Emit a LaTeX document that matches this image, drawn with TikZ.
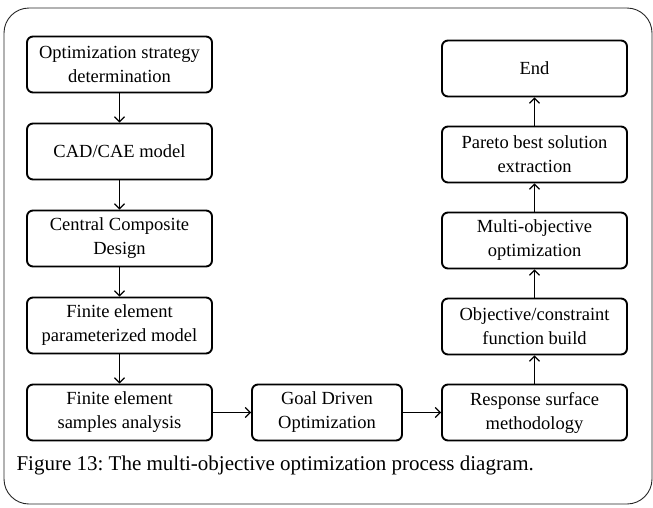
\documentclass[tikz,border=0pt]{standalone}
\usepackage{fontspec}
\setmainfont{Liberation Serif}
\usetikzlibrary{positioning}
\usetikzlibrary{arrows.meta}
\frenchspacing
\tikzset{procbox/.style={minimum width=185pt,minimum height=56pt,rounded corners=1.3ex,draw,line width=1.9pt,align=center,inner sep=2pt,font=\fontsize{18.5}{24}\selectfont},
flowarrow/.style={line width=1.2pt,-{Straight Barb[length=5pt,width=10pt]}}}

\begin{document}
\begin{tikzpicture}[x=1pt,y=1pt]
\useasboundingbox (0,0) rectangle (653,-507);
\draw[rounded corners=25pt,line width=0.9pt,black!85] (4,-8) rectangle (652,-504);

% left column
\node (opt) at (119.5,-64.5) [procbox] {Optimization strategy\\determination};
\node (cad) [below of=opt, node distance=87pt, procbox] {CAD/CAE model};
\node (ccd) [below of=cad, node distance=87pt, procbox] {Central Composite\\Design};
\node (fem) [below of=ccd, node distance=87pt, procbox] {Finite element\\parameterized model};
\node (fea) [below of=fem, node distance=87pt, procbox] {Finite element\\samples analysis};
% bottom row
\node (gdo) [right of=fea, node distance=207.5pt, procbox, minimum width=150pt] {Goal Driven\\Optimization};
\node (rsm) [right of=gdo, node distance=207.5pt, procbox] {Response surface\\methodology};
% right column
\node (ocf) [above of=rsm, node distance=86pt, procbox] {Objective/constraint\\function build};
\node (moo) [above of=ocf, node distance=86pt, procbox] {Multi-objective\\optimization};
\node (pbs) [above of=moo, node distance=86pt, procbox] {Pareto best solution\\extraction};
\node (end) [above of=pbs, node distance=86pt, procbox] {End};

\draw[flowarrow] (opt) -- (cad);
\draw[flowarrow] (cad) -- (ccd);
\draw[flowarrow] (ccd) -- (fem);
\draw[flowarrow] (fem) -- (fea);
\draw[flowarrow] (fea) -- (gdo);
\draw[flowarrow] (gdo) -- (rsm);
\draw[flowarrow] (rsm) -- (ocf);
\draw[flowarrow] (ocf) -- (moo);
\draw[flowarrow] (moo) -- (pbs);
\draw[flowarrow] (pbs) -- (end);

\node (cap) [anchor=west] at (13,-465) {\fontsize{21}{24}\selectfont Figure 13: The multi-objective optimization process diagram.};

\end{tikzpicture}
\end{document}
